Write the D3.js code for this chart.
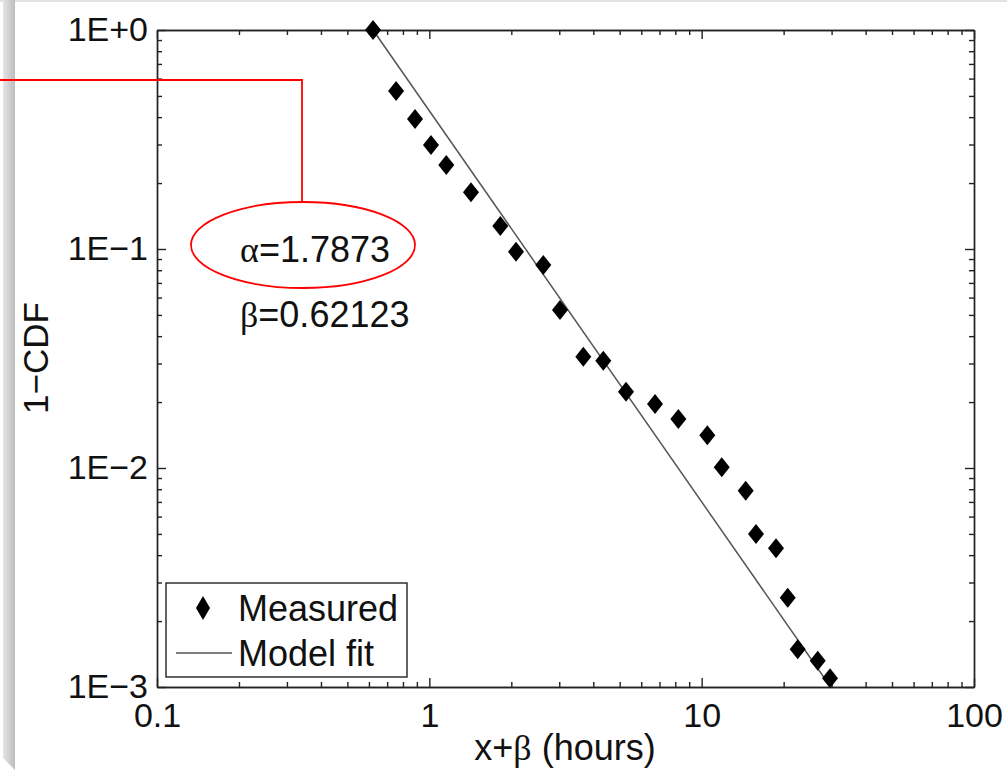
<!DOCTYPE html>
<html>
<head>
<meta charset="utf-8">
<script src="https://cdn.jsdelivr.net/npm/d3@7"></script>
<style>
  body { margin:0; background:#fff; }
  svg { display:block; font-family:"Liberation Sans", Arial, sans-serif; }
  .axis path, .axis line { stroke:#222; stroke-width:1.4; }
  .axis text { font-size:34px; fill:#111; }
</style>
</head>
<body>
<div id="canvas"></div>
<script>
// measured points (x+beta, 1-CDF)
var measuredX = [0.62123, 0.755, 0.886, 1.014, 1.154, 1.422, 1.822, 2.081, 2.621, 3.018, 3.676, 4.353,
                 5.275, 6.741, 8.211, 10.49, 11.85, 14.51, 15.83, 18.75, 20.70, 22.52, 26.68, 29.60];
var measuredY = [1, 0.527, 0.392, 0.2985, 0.2418, 0.1815, 0.1274, 0.0972, 0.0845, 0.0527, 0.0322, 0.0309,
                 0.0223, 0.0196, 0.01674, 0.0141, 0.01007, 0.00787, 0.0050, 0.0043, 0.002557, 0.001486, 0.001318, 0.001096];

// model fit end points (alpha=1.7873, beta=0.62123)
var fitX = [0.62123, 29.75];
var fitY = [1, 0.001];

var xMajor = [0.1, 1, 10, 100];
var xMajorLabels = ['0.1', '1', '10', '100'];
var yMajor = [1e-3, 1e-2, 1e-1, 1];
var yMajorLabels = ['1E\u22123', '1E\u22122', '1E\u22121', '1E+0'];

var legendLabels = ['Measured', 'Model fit'];

var W = 1007, H = 770;
var m = {t:30, r:33, b:83, l:157};
var w = W - m.l - m.r,
    h = H - m.t - m.b;

var svg = d3.select('#canvas').append('svg')
    .attr('width', W)
    .attr('height', H);

// slide frame bits (grey strip left, thin grey top)
var defs = svg.append('defs');
var grad = defs.append('linearGradient').attr('id','edge').attr('x1','0').attr('x2','1');
grad.append('stop').attr('offset','0').attr('stop-color','#e4e4e4');
grad.append('stop').attr('offset','1').attr('stop-color','#bdbdbd');
svg.append('rect').attr('x',0).attr('y',0).attr('width',W).attr('height',2).attr('fill','#e2e2e2');
svg.append('path').attr('d','M3,0 L15,0 L15,770 L3,758 Z').attr('fill','url(#edge)');

var plot = svg.append('g')
    .attr('transform','translate(' + m.l + ',' + m.t + ')');

var scaleX = d3.scaleLog().domain([0.1, 100]).range([0, w]);
var scaleY = d3.scaleLog().domain([1e-3, 1]).range([h, 0]);

var xMinor = scaleX.ticks().filter(function(d){ return xMajor.indexOf(+d.toPrecision(3)) < 0; });
var yMinor = scaleY.ticks().filter(function(d){ return yMajor.indexOf(+d.toPrecision(3)) < 0; });

// minor ticks on all four sides
plot.append('g').attr('class','axis').attr('transform','translate(0,' + h + ')')
    .call(d3.axisBottom(scaleX).tickValues(xMinor).tickSize(-5).tickSizeOuter(0).tickFormat(''));
plot.append('g').attr('class','axis')
    .call(d3.axisTop(scaleX).tickValues(xMinor).tickSize(-5).tickSizeOuter(0).tickFormat(''));
plot.append('g').attr('class','axis')
    .call(d3.axisLeft(scaleY).tickValues(yMinor).tickSize(-5).tickSizeOuter(0).tickFormat(''));
plot.append('g').attr('class','axis').attr('transform','translate(' + w + ',0)')
    .call(d3.axisRight(scaleY).tickValues(yMinor).tickSize(-5).tickSizeOuter(0).tickFormat(''));

// major ticks + labels
plot.append('g').attr('class','axis').attr('transform','translate(0,' + h + ')')
    .call(d3.axisBottom(scaleX).tickValues(xMajor).tickSize(-9).tickSizeOuter(0).tickPadding(16)
        .tickFormat(function(d,i){ return xMajorLabels[i]; }));
plot.append('g').attr('class','axis')
    .call(d3.axisTop(scaleX).tickValues(xMajor).tickSize(-9).tickSizeOuter(0).tickFormat(''));
plot.append('g').attr('class','axis')
    .call(d3.axisLeft(scaleY).tickValues(yMajor).tickSize(-9).tickSizeOuter(0).tickPadding(9)
        .tickFormat(function(d,i){ return yMajorLabels[i]; }));
plot.append('g').attr('class','axis').attr('transform','translate(' + w + ',0)')
    .call(d3.axisRight(scaleY).tickValues(yMajor).tickSize(-9).tickSizeOuter(0).tickFormat(''));

plot.selectAll('.axis text').attr('fill','#111');

// model fit line
var fit = fitX.map(function(d,i){ return [d, fitY[i]]; });
plot.append('path')
    .datum(fit)
    .attr('d', d3.line().x(function(d){ return scaleX(d[0]); }).y(function(d){ return scaleY(d[1]); }))
    .attr('fill','none')
    .attr('stroke','#555')
    .attr('stroke-width',1.5);

// measured diamonds
var diamond = 'M0,-10 L8,0 L0,10 L-8,0 Z';
plot.selectAll('.pt')
    .data(measuredX.map(function(d,i){ return {x:d, y:measuredY[i]}; }))
    .enter()
    .append('path')
    .attr('class','pt')
    .attr('d', diamond)
    .attr('transform', function(d){ return 'translate(' + scaleX(d.x) + ',' + scaleY(d.y) + ')'; })
    .attr('fill','#000');

// axis titles
svg.append('text')
    .attr('x', 565).attr('y', 760)
    .attr('text-anchor','middle')
    .style('font-size','36px').attr('fill','#111')
    .html('x+<tspan font-family="Liberation Serif">&#946;</tspan> (hours)');
svg.append('text')
    .attr('transform','translate(48,358) rotate(-90)')
    .attr('text-anchor','middle')
    .style('font-size','35px').attr('fill','#111')
    .text('1\u2212CDF');

// legend
var lg = svg.append('g').attr('transform','translate(166,583)');
lg.append('rect').attr('width',241).attr('height',94)
    .attr('fill','#fff').attr('stroke','#222').attr('stroke-width',1.4);
lg.append('path').attr('d','M0,-12 L7,0 L0,12 L-7,0 Z')
    .attr('transform','translate(37,25)').attr('fill','#000');
lg.append('line').attr('x1',10).attr('x2',66).attr('y1',70).attr('y2',70)
    .attr('stroke','#555').attr('stroke-width',1.5);
lg.selectAll('.lt').data(legendLabels).enter().append('text')
    .attr('class','lt')
    .attr('x',72)
    .attr('y',function(d,i){ return 38 + i*45; })
    .style('font-size','36px').attr('fill','#111')
    .text(function(d){ return d; });

// red annotation
svg.append('path').attr('d','M0,80 L302,80 L302,202')
    .attr('fill','none').attr('stroke','#f00').attr('stroke-width',1.8);
svg.append('ellipse').attr('cx',303).attr('cy',245).attr('rx',112).attr('ry',43)
    .attr('fill','none').attr('stroke','#f00').attr('stroke-width',1.8);
svg.append('text').attr('x',240).attr('y',262)
    .style('font-size','36px').attr('fill','#111')
    .html('<tspan font-family="Liberation Serif">&#945;</tspan>=1.7873');
svg.append('text').attr('x',240).attr('y',327)
    .style('font-size','36px').attr('fill','#111')
    .html('<tspan font-family="Liberation Serif">&#946;</tspan>=0.62123');
</script>
</body>
</html>
